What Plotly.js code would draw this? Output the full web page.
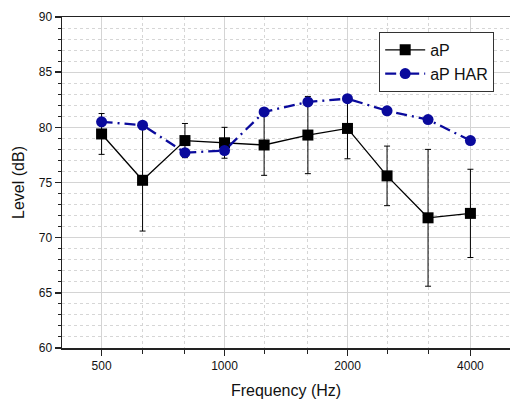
<!DOCTYPE html>
<html>
<head>
<meta charset="utf-8">
<script src="https://cdn.plot.ly/plotly-3.0.1.min.js"></script>
<style>html,body{margin:0;padding:0;background:#fff;}#chart{width:511px;height:400px;}</style>
</head>
<body>
<div id="chart"></div>
<script>
var freqs = [500, 630, 800, 1000, 1250, 1600, 2000, 2500, 3150, 4000];
var apLevel = [79.4, 75.2, 78.8, 78.6, 78.4, 79.3, 79.9, 75.6, 71.8, 72.2];
var apErr = [1.85, 4.6, 1.55, 1.4, 2.75, 3.5, 2.75, 2.7, 6.2, 4.0];
var harLevel = [80.5, 80.2, 77.7, 77.9, 81.4, 82.3, 82.6, 81.5, 80.7, 78.8];
var xLabelVals = [500, 1000, 2000, 4000];
var xLabelText = ['500', '1000', '2000', '4000'];
var minorFreqs = [630, 800, 1250, 1600, 2500, 3150];

var traces = [
  {
    x: freqs, y: apLevel, name: 'aP', type: 'scatter', mode: 'lines+markers',
    line: {color: '#000000', width: 1.3},
    marker: {symbol: 'square', size: 11, color: '#000000'},
    error_y: {type: 'data', array: apErr, visible: true, color: '#000000', thickness: 1, width: 3}
  },
  {
    x: freqs, y: harLevel, name: 'aP HAR', type: 'scatter', mode: 'lines+markers',
    line: {color: '#0a0a9c', width: 2.3, dash: '11px,5px,2px,5px'},
    marker: {symbol: 'circle', size: 11, color: '#0a0a9c'}
  }
];

var layout = {
  width: 511, height: 400,
  margin: {l: 62, r: 1, t: 17, b: 52},
  paper_bgcolor: '#ffffff', plot_bgcolor: '#ffffff',
  font: {family: 'Liberation Sans, Arial, sans-serif', color: '#111111', size: 12},
  showlegend: true,
  legend: {
    x: 0.708, y: 0.955, xanchor: 'left', yanchor: 'top',
    bgcolor: '#ffffff', bordercolor: '#333333', borderwidth: 1,
    font: {size: 16, color: '#111111'}, tracegroupgap: 0, itemwidth: 40
  },
  xaxis: {
    type: 'log', range: [Math.log10(400), Math.log10(5000)],
    tickmode: 'array', tickvals: xLabelVals, ticktext: xLabelText,
    ticks: 'outside', ticklen: 6, tickwidth: 1.5, tickcolor: '#222222',
    showline: true, linecolor: '#222222', linewidth: 1.5, mirror: true,
    showgrid: true, gridcolor: '#d4d4d4', gridwidth: 1,
    zeroline: false,
    tickfont: {size: 12},
    minor: {tickmode: 'array', tickvals: minorFreqs, ticks: 'outside', ticklen: 4, tickwidth: 1, tickcolor: '#222222',
            showgrid: true, gridcolor: '#d6d6d6', griddash: 'dot', gridwidth: 1},
    title: {text: 'Frequency (Hz)', font: {size: 16}, standoff: 13}
  },
  yaxis: {
    range: [60, 90], tickmode: 'linear', tick0: 60, dtick: 5,
    ticks: 'outside', ticklen: 6, tickwidth: 1.5, tickcolor: '#222222',
    showline: true, linecolor: '#222222', linewidth: 1.5,
    showgrid: true, gridcolor: '#d4d4d4', gridwidth: 1,
    zeroline: false,
    tickfont: {size: 12},
    minor: {dtick: 1, ticks: 'outside', ticklen: 3, tickwidth: 1, tickcolor: '#222222',
            showgrid: true, gridcolor: '#d6d6d6', griddash: 'dot', gridwidth: 1},
    title: {text: 'Level (dB)', font: {size: 16}, standoff: 10}
  }
};

Plotly.newPlot('chart', traces, layout, {displayModeBar: false, staticPlot: true});
</script>
</body>
</html>
